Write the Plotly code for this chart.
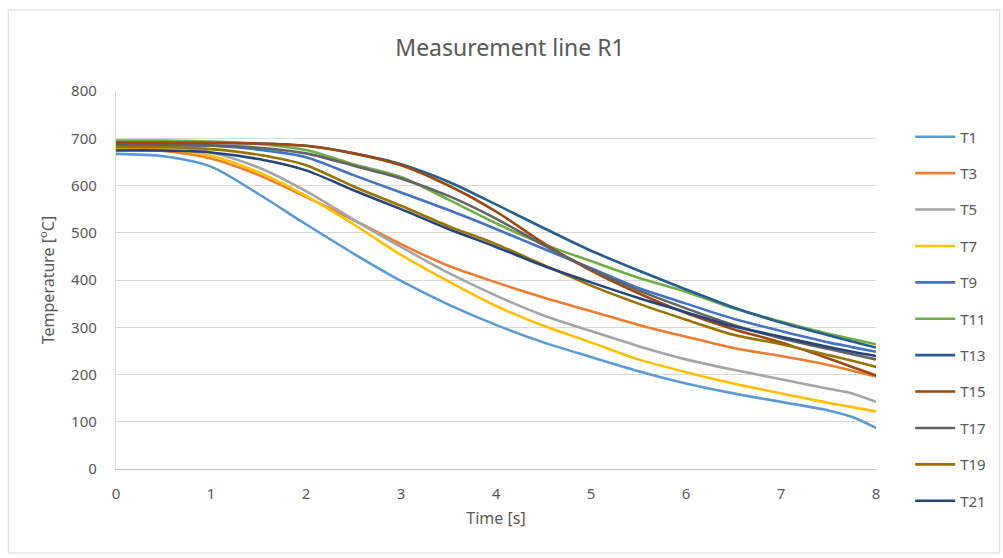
import plotly.graph_objects as go

time_s = [0, 0.5, 1, 1.5, 2, 2.5, 3, 3.5, 4, 4.5, 5, 5.5, 6, 6.5, 7, 7.5, 7.75, 8]

T1 = [667, 662, 640, 582, 518, 456, 398, 348, 305, 268, 237, 207, 181, 160, 142, 124, 110, 87]
T3 = [677, 673, 657, 622, 576, 527, 476, 430, 395, 363, 334, 305, 280, 256, 239, 220, 208, 196]
T5 = [684, 683, 670, 638, 588, 528, 470, 415, 367, 325, 292, 260, 232, 210, 190, 170, 160, 142]
T7 = [680, 677, 663, 628, 578, 518, 453, 397, 345, 303, 268, 232, 205, 181, 160, 140, 131, 122]
T9 = [686, 686, 684, 676, 660, 622, 585, 548, 508, 466, 425, 383, 350, 318, 292, 268, 258, 248]
T11 = [695, 695, 693, 688, 675, 645, 618, 570, 520, 476, 440, 405, 375, 340, 312, 286, 275, 264]
T13 = [690, 690, 690, 689, 684, 668, 645, 608, 560, 510, 462, 420, 380, 342, 310, 283, 270, 257]
T15 = [691, 691, 690, 689, 684, 668, 643, 600, 545, 478, 420, 372, 330, 296, 268, 234, 216, 198]
T17 = [686, 686, 685, 680, 668, 642, 615, 578, 530, 474, 423, 378, 340, 305, 277, 254, 243, 232]
T19 = [681, 681, 677, 665, 643, 598, 557, 514, 476, 432, 388, 350, 316, 284, 264, 241, 229, 216]
T21 = [674, 674, 670, 656, 632, 590, 550, 508, 470, 430, 395, 362, 332, 302, 280, 258, 248, 239]

series_names = ["T1", "T3", "T5", "T7", "T9", "T11", "T13", "T15", "T17", "T19", "T21"]
series_values = [T1, T3, T5, T7, T9, T11, T13, T15, T17, T19, T21]
series_colors = ["#5B9BD5", "#ED7D31", "#A5A5A5", "#FFC000", "#4472C4", "#70AD47",
                 "#255E91", "#9E480E", "#636363", "#997300", "#264478"]

x_ticks = [0, 1, 2, 3, 4, 5, 6, 7, 8]
y_ticks = [0, 100, 200, 300, 400, 500, 600, 700, 800]

FONT = "Noto Sans, Liberation Sans, sans-serif"
TXT = "#595959"

fig = go.Figure()
for name, vals, col in zip(series_names, series_values, series_colors):
    fig.add_trace(go.Scatter(
        x=time_s, y=vals, name=name, mode="lines", legendgroup=name,
        line=dict(color=col, width=2.6, shape="spline", smoothing=0.8),
    ))

fig.update_layout(
    width=1003, height=558,
    margin=dict(l=116, r=125, t=91, b=89),
    paper_bgcolor="white", plot_bgcolor="white",
    font=dict(family=FONT, color=TXT, size=15),
    title=dict(text="Measurement line R1", x=510 / 1003, xref="container", xanchor="center",
               y=1 - 48 / 558, yref="container", yanchor="middle",
               font=dict(size=23, color=TXT, family=FONT)),
    showlegend=True,
    legend=dict(x=1.045, xanchor="left", y=0.922, yanchor="top", maxheight=520,
                tracegroupgap=13.9, font=dict(size=15, color=TXT, family=FONT),
                bgcolor="rgba(0,0,0,0)", itemwidth=40),
    xaxis=dict(range=[0, 8], tickvals=x_ticks, showgrid=False, zeroline=False,
               showline=True, linecolor="#BFBFBF", linewidth=1.3, ticks="",
               ticklabelstandoff=11, tickfont=dict(size=15, color=TXT),
               title=dict(text="Time [s]", standoff=10, font=dict(size=16, color=TXT))),
    yaxis=dict(range=[0, 800], tickvals=y_ticks, showgrid=True, gridcolor="#D9D9D9", gridwidth=1.3,
               zeroline=False, showline=True, linecolor="#D9D9D9", linewidth=1.3, ticks="",
               ticklabelstandoff=15, tickfont=dict(size=15, color=TXT),
               title=dict(text="Temperature [<sup>o</sup>C]", standoff=12, font=dict(size=16, color=TXT))),
    shapes=[dict(type="rect", xref="paper", yref="paper",
                 x0=(8 - 116) / 762, x1=(1002 - 116) / 762,
                 y0=(469 - 553) / 378, y1=(469 - 10) / 378,
                 line=dict(color="#D9D9D9", width=1), fillcolor="rgba(0,0,0,0)", layer="below")],
)

fig.write_html("out.html")
